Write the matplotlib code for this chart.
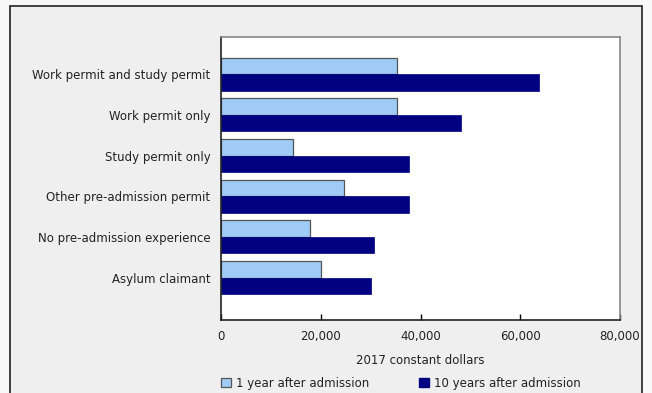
import matplotlib.pyplot as plt
from matplotlib.patches import Rectangle, Patch
import numpy as np

categories = ['Work permit and study permit', 'Work permit only', 'Study permit only',
              'Other pre-admission permit', 'No pre-admission experience', 'Asylum claimant']
one_year = [35300, 35300, 14400, 24700, 17900, 20100]
ten_years = [63700, 48100, 37600, 37600, 30700, 30000]
series_labels = ['1 year after admission', '10 years after admission']
xticks = [0, 20000, 40000, 60000, 80000]

light = '#9fcbf6'
dark = '#000080'

fig = plt.figure(figsize=(6.52, 3.93), dpi=100)
fig.patch.set_facecolor('#f8f8f8')
# outer panel box
fig.add_artist(Rectangle((10/652, -0.05), 632/652, 1.05 - 6/393, transform=fig.transFigure,
                         facecolor='#efefef', edgecolor='#222222', lw=1.2, zorder=-1))

ax = fig.add_axes([221/652, 1 - 320/393, 399/652, 283/393])
ax.set_facecolor('white')

pos = np.arange(len(categories))
h = 0.405
ax.barh(pos - h/2, one_year, height=h, color=light, edgecolor='#555555', lw=0.9,
        label=series_labels[0])
ax.barh(pos + h/2, ten_years, height=h, color=dark, edgecolor=dark, lw=0.5,
        label=series_labels[1])

fs = 8.5
ax.set_ylim(6.04, -0.914)
ax.set_xlim(0, 80000)
ax.set_yticks(pos)
ax.set_yticklabels(categories, fontsize=fs, color='#222222')
ax.set_xticks(xticks)
ax.set_xticklabels(['{:,}'.format(v) for v in xticks], fontsize=fs, color='#222222')
ax.tick_params(axis='y', left=False, pad=4)
ax.tick_params(axis='x', direction='in', length=4, width=1, pad=7)
ax.set_xlabel('2017 constant dollars', fontsize=fs, color='#222222', labelpad=8)

for s in ['top', 'right']:
    ax.spines[s].set_color('#888888')
    ax.spines[s].set_linewidth(1.2)
for s in ['left', 'bottom']:
    ax.spines[s].set_color('#222222')
    ax.spines[s].set_linewidth(1.2)

handles = [Patch(facecolor=light, edgecolor='#555555', lw=0.9),
           Patch(facecolor=dark, edgecolor=dark)]
fig.legend(handles, series_labels, ncol=2, loc='center left',
           bbox_to_anchor=(210/652, 1 - 383/393), frameon=False, fontsize=fs,
           handlelength=0.9, handleheight=0.9, handletextpad=0.4, columnspacing=4.2,
           labelcolor='#222222')

plt.savefig('out.png', dpi=100, facecolor=fig.get_facecolor())
